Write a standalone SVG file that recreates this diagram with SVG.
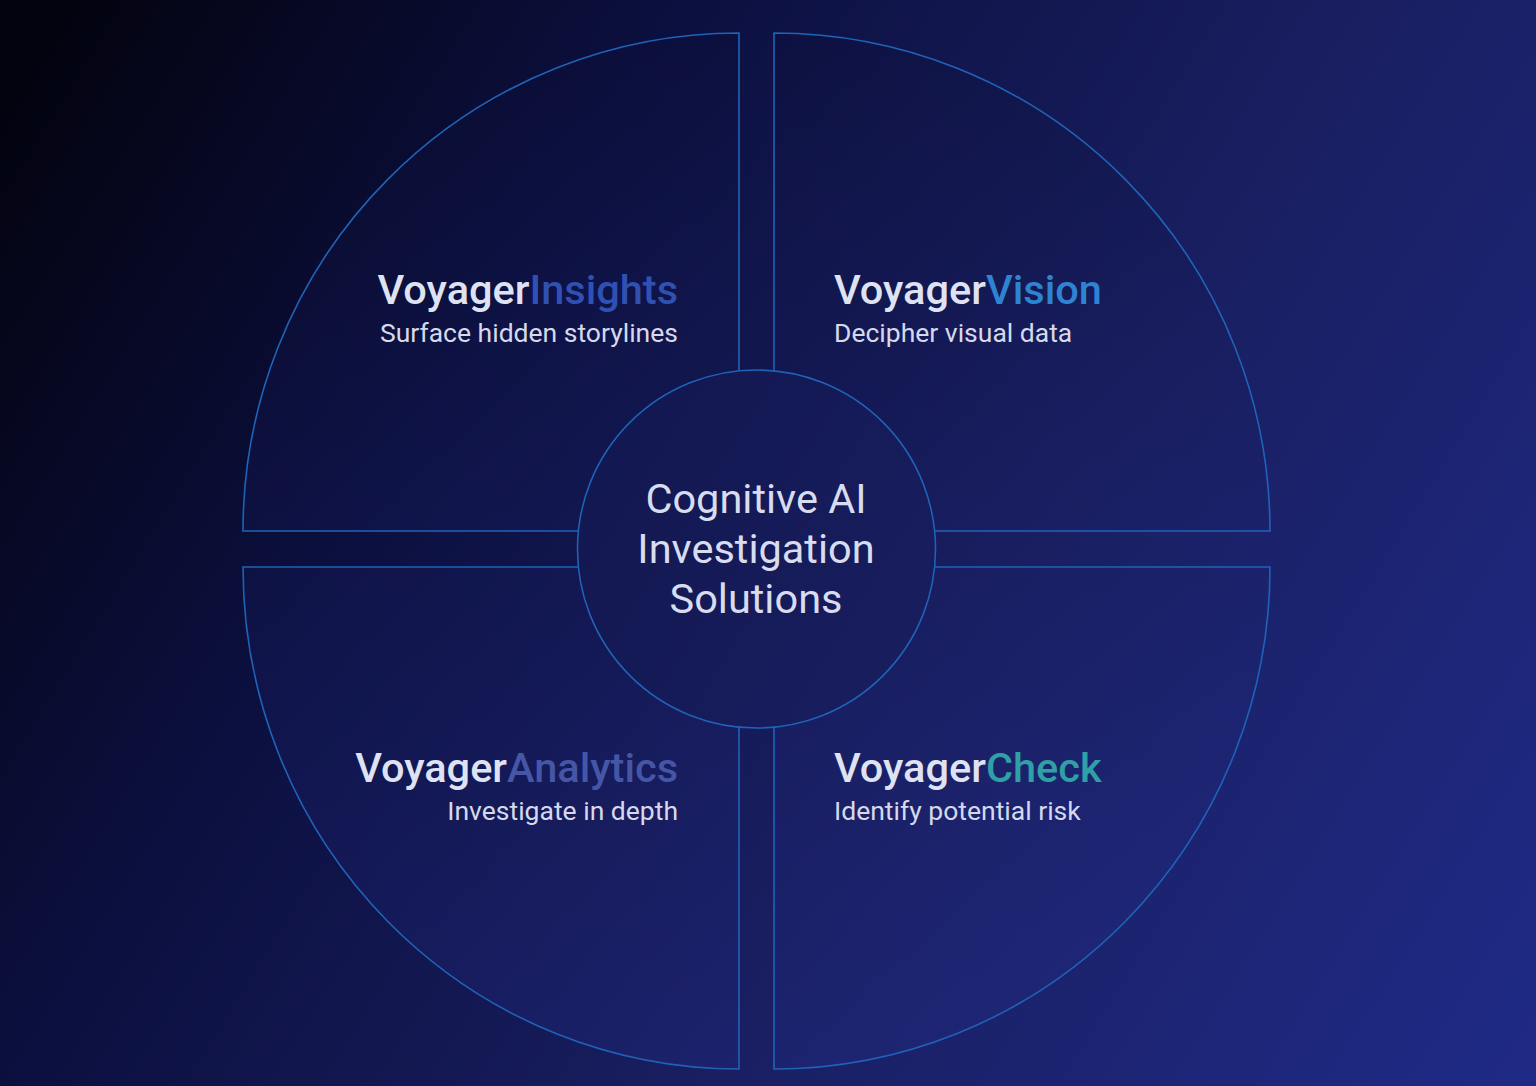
<svg xmlns="http://www.w3.org/2000/svg" width="1536" height="1086" viewBox="0 0 1536 1086">
<defs>
<linearGradient id="bg" x1="0" y1="100" x2="1536" y2="1050" gradientUnits="userSpaceOnUse">
<stop offset="0" stop-color="#03030f"/>
<stop offset="0.3" stop-color="#0c1040"/>
<stop offset="0.65" stop-color="#1a2064"/>
<stop offset="1" stop-color="#1f2a86"/>
</linearGradient>
<linearGradient id="qf" x1="0" y1="0" x2="0" y2="1086" gradientUnits="userSpaceOnUse">
<stop offset="0" stop-color="#0a0c30" stop-opacity="0.25"/>
<stop offset="1" stop-color="#2a34a0" stop-opacity="0.18"/>
</linearGradient>
<style>
.q{fill:url(#qf);stroke:#1f63b8;stroke-width:1.6}
.c{fill:url(#bg);stroke:#1f63b8;stroke-width:1.6}
.t{font-family:Roboto,"Liberation Sans",sans-serif;font-size:41.5px;font-weight:500;fill:#dfe2f2}
.s{font-family:Roboto,"Liberation Sans",sans-serif;font-size:26.5px;font-weight:400;fill:#d6d9ec}
.m{font-family:Roboto,"Liberation Sans",sans-serif;font-size:41.5px;font-weight:400;fill:#d8dcef;text-anchor:middle}
</style>
</defs>
<rect width="1536" height="1086" fill="url(#bg)"/>
<g id="connectors"></g>
<g id="insights">
<path class="q" d="M739 531 H243 A496 498 0 0 1 739 33 Z"/>
<text class="t" x="678" y="304" text-anchor="end">Voyager<tspan fill="#3050b2">Insights</tspan></text>
<text class="s" x="678" y="342" text-anchor="end">Surface hidden storylines</text>
</g>
<g id="vision">
<path class="q" d="M774 531 V33 A496 498 0 0 1 1270 531 Z"/>
<text class="t" x="834" y="304">Voyager<tspan fill="#2e84d2">Vision</tspan></text>
<text class="s" x="834" y="342">Decipher visual data</text>
</g>
<g id="analytics">
<path class="q" d="M739 567 H243 A496 502 0 0 0 739 1069 Z"/>
<text class="t" x="678" y="782" text-anchor="end">Voyager<tspan fill="#4656a6">Analytics</tspan></text>
<text class="s" x="678" y="820" text-anchor="end">Investigate in depth</text>
</g>
<g id="check">
<path class="q" d="M774 567 H1270 A496 502 0 0 1 774 1069 Z"/>
<text class="t" x="834" y="782">Voyager<tspan fill="#2fa0a6">Check</tspan></text>
<text class="s" x="834" y="820">Identify potential risk</text>
</g>
<g id="center">
<circle class="c" cx="756.5" cy="549" r="179"/>
<circle cx="756.5" cy="549" r="178" fill="#1a1f60" fill-opacity="0.35"/>
<text class="m" x="756" y="513">Cognitive AI</text>
<text class="m" x="756" y="563">Investigation</text>
<text class="m" x="756" y="613">Solutions</text>
</g>
</svg>
